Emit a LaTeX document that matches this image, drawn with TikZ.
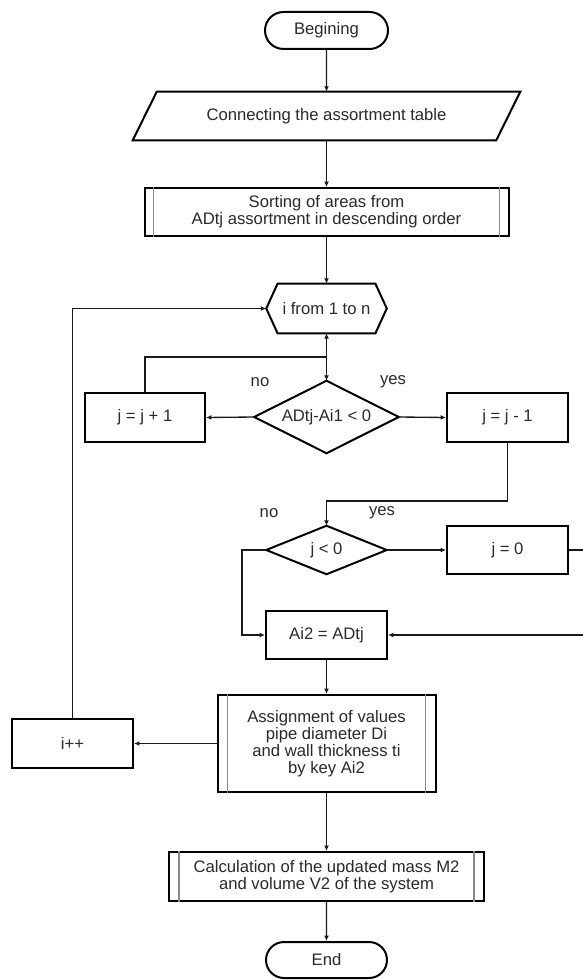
\documentclass[tikz,border=0pt]{standalone}
\usepackage{fontspec}
\setmainfont{Liberation Sans}
\usetikzlibrary{shapes.geometric,shapes.misc,arrows.meta}
\definecolor{txt}{HTML}{2A2A2A}
\definecolor{ln}{HTML}{1A1A1A}
\definecolor{inl}{HTML}{8A8A8A}
\begin{document}
\begin{tikzpicture}[x=0.75pt,y=-0.75pt,
  lbl/.style={font=\fontsize{12.5pt}{12.8pt}\selectfont, text=txt, align=center, inner sep=0pt},
  base/.style={lbl, draw=black, line width=1.5pt},
  boxn/.style={base, rectangle},
  ghost/.style={lbl, rectangle, draw=none},
  termn/.style={base, rounded rectangle},
  shapeline/.style={draw=black, line width=1.5pt, line join=miter},
  inner/.style={draw=inl, line width=1pt},
  arr/.style={draw=ln, line width=1pt, -{Latex[length=4pt,width=3.6pt]}},
  con/.style={draw=ln, line width=1pt}
]
\fill[white] (0,0) rectangle (582,980);
\useasboundingbox (0,0) rectangle (582,980);

% nodes
\node[termn, minimum width=92.25pt, minimum height=27.75pt] (begin) at (326.5,30.5) {Begining};
\node[ghost, minimum width=272.25pt, minimum height=36pt] (conn) at (326.5,116) {Connecting the assortment table};
\node[boxn, minimum width=273pt, minimum height=36pt] (sort) at (326.5,212) {Sorting of areas from\\ADtj assortment in descending order};
\node[ghost, minimum width=90pt, minimum height=36.75pt] (loop) at (326.5,308.5) {i from 1 to n};
\coordinate (J) at (326.5,357);
\node[ghost, minimum width=108pt, minimum height=54pt] (d1) at (326.5,417) {ADtj-Ai1 < 0};
\node[boxn, minimum width=90pt, minimum height=36.75pt] (jp1) at (145,417.5) {j = j + 1};
\node[boxn, minimum width=90.75pt, minimum height=36.75pt] (jm1) at (507.5,417.5) {j = j - 1};
\node[lbl] (no1) at (260,382) {no};
\node[lbl] (yes1) at (393,382) {yes};
\coordinate (c1) at (507.5,501);
\node[ghost, minimum width=90pt, minimum height=36pt] (d2) at (326.5,550) {j < 0};
\node[boxn, minimum width=90.75pt, minimum height=36pt] (j0) at (507.5,550) {j = 0};
\node[lbl] (no2) at (269,513) {no};
\node[lbl] (yes2) at (382,513) {yes};
\node[boxn, minimum width=90.75pt, minimum height=36pt] (ai2) at (326.5,635) {Ai2 = ADtj};
\coordinate (c2) at (242,635);
\coordinate (c3) at (596,550);
\node[boxn, minimum width=163.5pt, minimum height=72.75pt] (assign) at (326.5,743.5) {Assignment of values\\pipe diameter Di\\and wall thickness ti\\by key Ai2};
\node[boxn, minimum width=90.75pt, minimum height=36.75pt] (ipp) at (72.5,743.5) {i++};
\node[boxn, minimum width=236.25pt, minimum height=36.75pt] (calc) at (326.5,876.5) {Calculation of the updated mass M2\\and volume V2 of the system};
\node[termn, minimum width=90.75pt, minimum height=27pt] (end) at (326.5,960) {End};

% special outlines
\draw[shapeline] ([xshift=-9pt]conn.south west) -- ([xshift=9pt]conn.north west)
  -- ([xshift=9pt]conn.north east) -- ([xshift=-9pt]conn.south east) -- cycle;
\draw[shapeline] (loop.west) -- ([xshift=8.5pt]loop.north west) -- ([xshift=-8.5pt]loop.north east)
  -- (loop.east) -- ([xshift=-8.5pt]loop.south east) -- ([xshift=8.5pt]loop.south west) -- cycle;
\foreach \n in {d1,d2}{
  \draw[shapeline] (\n.west) -- (\n.north) -- (\n.east) -- (\n.south) -- cycle;
}
\foreach \n/\d in {sort/7.5pt, assign/8.25pt, calc/8.25pt}{
  \draw[inner] ([xshift=\d]\n.north west) -- ([xshift=\d]\n.south west);
  \draw[inner] ([xshift=-\d]\n.north east) -- ([xshift=-\d]\n.south east);
}

% connectors
\draw[arr] (begin) -- (conn);
\draw[arr] (conn) -- (sort);
\draw[arr] (sort) -- (loop);
\draw[con] (jp1.north) |- (J);
\draw[arr] (J) -- (loop.south);
\draw[arr] (J) -- (d1.north);
\draw[arr] (d1.west) -- (jp1.east);
\draw[arr] (d1.east) -- (jm1.west);
\draw[arr] (jm1.south) -- (c1) -| (d2.north);
\draw[arr] (d2.east) -- (j0.west);
\draw[arr] (d2.west) -| (c2) -- (ai2.west);
\draw[arr] (j0.east) -- (c3) |- (ai2.east);
\draw[arr] (ai2) -- (assign);
\draw[arr] (assign.west) -- (ipp.east);
\draw[arr] (ipp.north) |- (loop.west);
\draw[arr] (assign) -- (calc);
\draw[arr] (calc) -- (end);
\end{tikzpicture}
\end{document}
